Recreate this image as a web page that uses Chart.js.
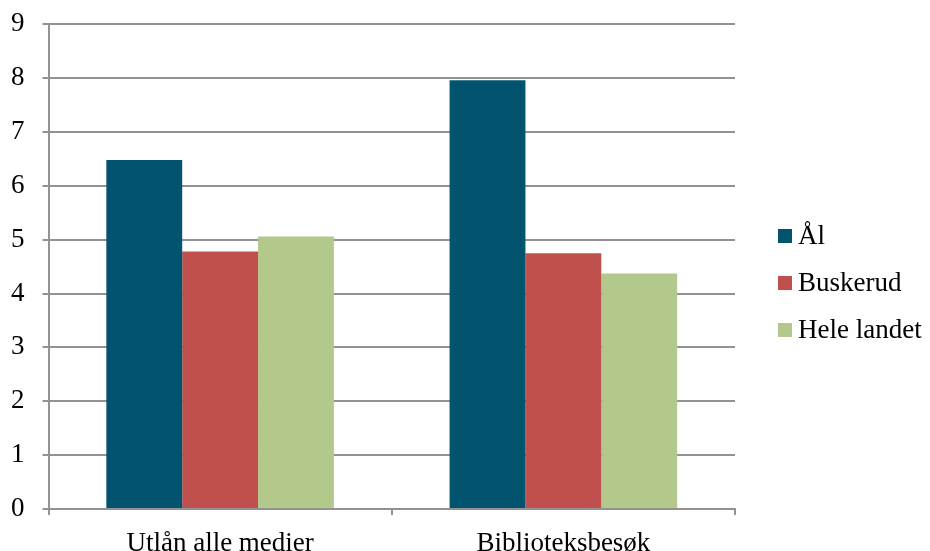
<!DOCTYPE html>
<html>
<head>
<meta charset="utf-8">
<script src="https://cdn.jsdelivr.net/npm/chart.js@4"></script>
<style>
  body{ margin:0; background:#fff; }
  #wrap{ position:relative; width:930px; height:551px; overflow:hidden; }
  #myChart{ position:absolute; left:-17px; top:-10px; }
  #legend{ position:absolute; left:0; top:0; font-family:"Liberation Serif", serif; font-size:27px; color:#000; }
  .item{ position:absolute; white-space:nowrap; line-height:27px; }
  .box{ position:absolute; width:14px; height:14px; }
</style>
</head>
<body>
<div id="wrap">
  <canvas id="myChart" width="947" height="582"></canvas>
  <div id="legend"></div>
</div>
<script>

//------------------------------------------------------------------

const categories = ['Utlån alle medier', 'Biblioteksbesøk'];
const seriesNames = ['Ål', 'Buskerud', 'Hele landet'];
const alValues = [6.48, 7.96];
const buskerudValues = [4.78, 4.75];
const heleLandetValues = [5.06, 4.37];
const yTicks = [0, 1, 2, 3, 4, 5, 6, 7, 8, 9];

const colors = ['#02546e', '#c0504d', '#b3c98b'];
const axis_color = '#929292';
const font_main = { family: '"Liberation Serif", serif', size: 27, lineHeight: 1 };

//------------------------------------------------------------------

const ctx = document.getElementById('myChart');

const bar_chart = new Chart(ctx, {
    type: 'bar',
    data: {
        labels: categories,
        datasets: [
            { label: seriesNames[0], data: alValues, backgroundColor: colors[0] },
            { label: seriesNames[1], data: buskerudValues, backgroundColor: colors[1] },
            { label: seriesNames[2], data: heleLandetValues, backgroundColor: colors[2] },
        ]
    },
    options: {
        responsive: false,
        animation: false,
        layout: { padding: { left: 10, right: 195, top: 14, bottom: 0 } },
        datasets: { bar: { categoryPercentage: 0.663, barPercentage: 1, borderWidth: 0 } },
        plugins: { legend: { display: false }, tooltip: { enabled: false } },
        scales: {
            x: {
                offset: true,
                grid: { offset: true, drawOnChartArea: false, drawTicks: true, tickLength: 6, color: axis_color, lineWidth: 2 },
                border: { color: axis_color, width: 2 },
                ticks: { color: '#000', font: font_main, padding: 15 }
            },
            y: {
                min: yTicks[0],
                max: yTicks[yTicks.length - 1],
                afterBuildTicks: (axis) => { axis.ticks = yTicks.map(v => ({ value: v })) },
                grid: { color: axis_color, lineWidth: 2, tickLength: 6 },
                border: { color: axis_color, width: 2 },
                ticks: { color: '#000', font: { family: '"Liberation Serif", serif', size: 27 }, padding: 18 }
            }
        }
    }
});

//------------------------------------------------------------------

function show_legend(){

    var legend = document.getElementById('legend');
    for (let i = 0; i < seriesNames.length; i++) {
        var top = 229 + i * 47;
        var box = document.createElement('div');
        box.className = 'box';
        box.style.left = '778px';
        box.style.top = top + 'px';
        box.style.background = colors[i];
        legend.appendChild(box);

        var item = document.createElement('div');
        item.className = 'item';
        item.style.left = '798px';
        item.style.top = (top - 7) + 'px';
        item.textContent = seriesNames[i];
        legend.appendChild(item);
    }
}
show_legend();

</script>
</body>
</html>
